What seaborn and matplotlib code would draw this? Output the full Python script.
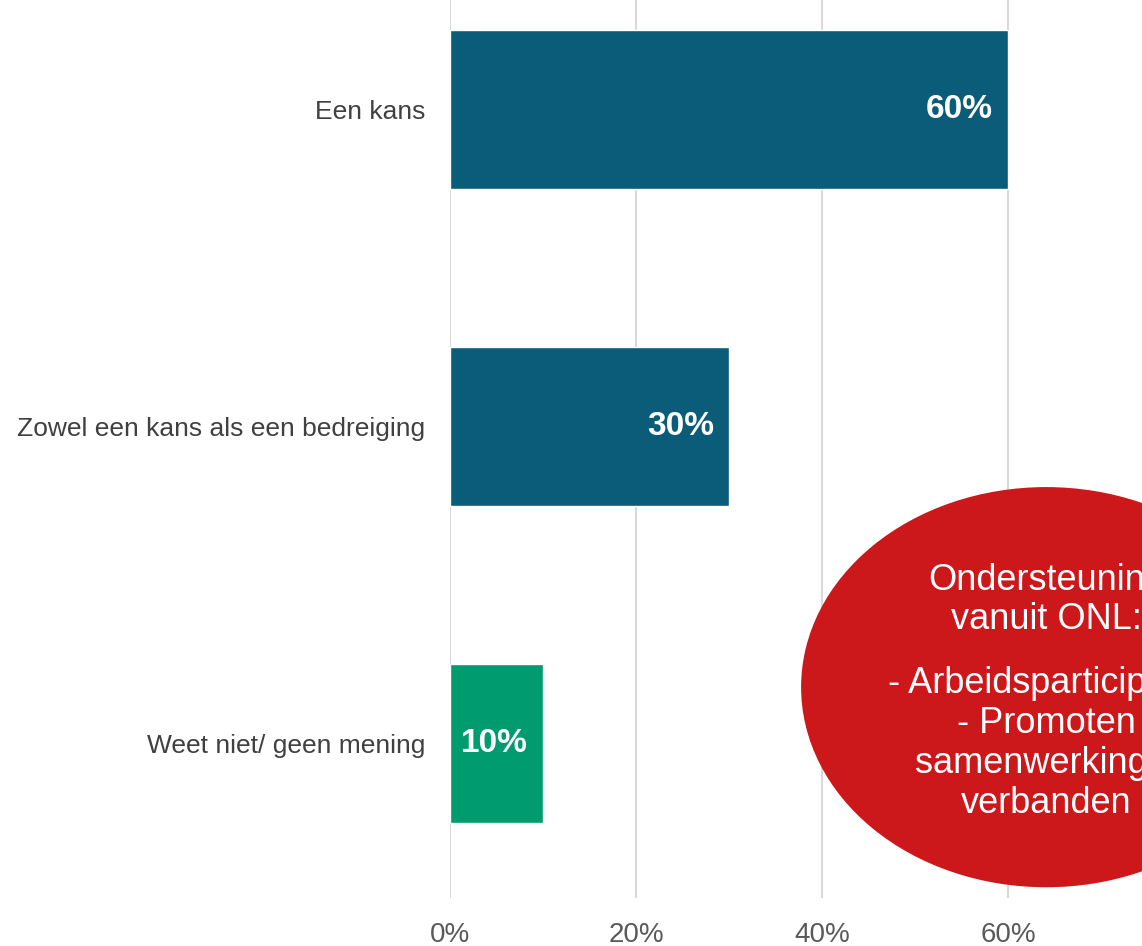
import matplotlib
matplotlib.use("Agg")
import matplotlib.pyplot as plt
from matplotlib.patches import Ellipse
import seaborn as sns
import pandas as pd

# Survey answers and their shares (%)
categories = ["Een kans", "Zowel een kans als een bedreiging", "Weet niet/ geen mening"]
values = [60, 30, 10]
bar_colors = ["#0b5c79", "#0b5c79", "#009b6f"]
tick_values = [0, 20, 40, 60]
tick_labels = ["0%", "20%", "40%", "60%"]
callout_title = "Ondersteuning\nvanuit ONL:"
callout_body = "- Arbeidsparticipatie\n- Promoten\nsamenwerkings-\nverbanden"

sns.set_theme(style="white")
plt.rcParams["font.family"] = ["Liberation Sans", "DejaVu Sans"]

df = pd.DataFrame({"categorie": categories, "aandeel": values})

fig = plt.figure(figsize=(11.42, 9.46), dpi=100)
ax = fig.add_axes([0.394, 0.0507, 0.606, 0.9493])

sns.barplot(data=df, x="aandeel", y="categorie", hue="categorie",
            palette=bar_colors, orient="h", width=0.5, legend=False,
            saturation=1, ax=ax, zorder=2)

ax.set_xticks(tick_values)
ax.set_xticklabels(tick_labels, fontsize=20, color="#595959")
ax.set_xlim(0, 74.4)
ax.set_ylim(2.487, -0.345)
ax.tick_params(axis="x", length=0, pad=17)
ax.tick_params(axis="y", length=0, pad=18, labelsize=19, labelcolor="#404040")
ax.set_xlabel("")
ax.set_ylabel("")
ax.grid(axis="x", color="#d9d9d9", linewidth=1.5, zorder=0)
ax.set_axisbelow(True)
for s in ax.spines.values():
    s.set_visible(False)

# value labels at the inner end of each bar
for i, v in enumerate(values):
    ax.annotate(f"{v}%", xy=(v, i), xytext=(-11, 0), textcoords="offset points",
                ha="right", va="center", fontsize=24, fontweight="bold",
                color="white", zorder=3)

# red callout bubble
cx, cy = 64.1, 1.822
ell = Ellipse((cx, cy), width=52.7, height=1.262, facecolor="#cc181b",
              edgecolor="none", zorder=4, clip_on=False)
ax.add_patch(ell)
ax.text(cx, cy - 0.275, callout_title, ha="center", va="center", fontsize=26,
        color="white", linespacing=1.18, zorder=5, clip_on=False)
ax.text(cx, cy + 0.177, callout_body, ha="center", va="center", fontsize=26,
        color="white", linespacing=1.18, zorder=5, clip_on=False)

fig.savefig("out.png", dpi=100)
